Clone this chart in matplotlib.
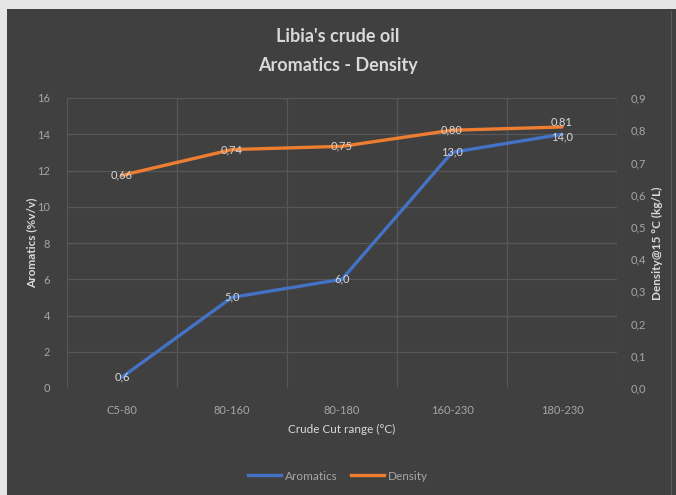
import numpy as np
import matplotlib.pyplot as plt
from matplotlib.patches import Rectangle
from matplotlib.lines import Line2D

# data
cuts = ['C5-80', '80-160', '80-180', '160-230', '180-230']
aromatics = [0.6, 5.0, 6.0, 13.0, 14.0]
density = [0.66, 0.74, 0.75, 0.80, 0.81]
left_ticks = [0, 2, 4, 6, 8, 10, 12, 14, 16]
right_ticks = [0.0, 0.1, 0.2, 0.3, 0.4, 0.5, 0.6, 0.7, 0.8, 0.9]

BG = '#404040'
TXT = '#d9d9d9'
TICK = '#a6a6a6'
GRID = '#575757'
BLUE = '#4472c4'
ORANGE = '#ed7d31'

plt.rcParams['font.family'] = ['Lato', 'DejaVu Sans']

W, H = 676, 495
fig = plt.figure(figsize=(W / 100, H / 100), dpi=100, facecolor='#e6e6e6')
fig.patches.append(Rectangle((7 / W, 0), 1 - 7 / W, 1 - 9 / H, transform=fig.transFigure,
                             facecolor=BG, edgecolor='none', zorder=-10))
# thin lighter edge on the right side of the chart frame
fig.patches.append(Rectangle((671 / W, 0), 1 / W, 1 - 11 / H, transform=fig.transFigure,
                             facecolor='#5a5a5a', edgecolor='none', zorder=-9))

# axes box in pixels: x 67..617, y 98..388
ax = fig.add_axes([67 / W, 1 - 388 / H, 550 / W, 290 / H])
ax.set_facecolor(BG)
ax2 = ax.twinx()

x = np.arange(len(cuts))
ax.set_xlim(-0.5, len(cuts) - 0.5)
ax.set_ylim(0, 16)
ax2.set_ylim(0, 0.9)

# grid: horizontal on left ticks, vertical at category boundaries
for t in left_ticks[1:]:
    ax.axhline(t, color=GRID, lw=0.9, zorder=0)
for b in np.arange(-0.5, len(cuts) + 0.5, 1.0):
    ax.axvline(b, color=GRID, lw=0.9, zorder=0)

ax.plot(x, aromatics, color=BLUE, lw=2.4, solid_capstyle='round', zorder=3)
ax2.plot(x, density, color=ORANGE, lw=2.4, solid_capstyle='round', zorder=3)

# last pair of labels sits on top of each other in the original, nudge apart a bit
for i, (xi, v) in enumerate(zip(x, aromatics)):
    dy = -2 if i == len(x) - 1 else 0
    ax.annotate(f'{v:.1f}'.replace('.', ','), (xi, v), xytext=(0, dy), textcoords='offset points',
                ha='center', va='center', color=TXT, fontsize=8, zorder=5)
for i, (xi, v) in enumerate(zip(x, density)):
    dy = 4 if i == len(x) - 1 else 0
    ax2.annotate(f'{v:.2f}'.replace('.', ','), (xi, v), xytext=(0, dy), textcoords='offset points',
                 ha='center', va='center', color=TXT, fontsize=8, zorder=5)

for a in (ax, ax2):
    for s in a.spines.values():
        s.set_visible(False)
    a.tick_params(length=0, colors=TICK, labelsize=8)

ax.set_xticks(x)
ax.set_xticklabels(cuts)
ax.tick_params(axis='x', pad=12)
ax.set_yticks(left_ticks)
ax.tick_params(axis='y', pad=12)
ax2.set_yticks(right_ticks)
ax2.set_yticklabels([f'{t:.1f}'.replace('.', ',') for t in right_ticks])
ax2.tick_params(axis='y', pad=10)

ax.set_xlabel('Crude Cut range (°C)', color=TXT, fontsize=8.5, labelpad=6)
ax.set_ylabel('Aromatics (%v/v)', color=TXT, fontsize=8.5, fontweight='bold', labelpad=0)
ax2.set_ylabel('Density@15 °C (kg/L)', color=TXT, fontsize=8.5, fontweight='bold',
               rotation=90, labelpad=4)

fig.text(0.5, 1 - 37 / H, "Libia's crude oil", ha='center', va='center',
         color=TXT, fontsize=13, fontweight='bold')
fig.text(0.5, 1 - 65 / H, 'Aromatics - Density', ha='center', va='center',
         color=TXT, fontsize=13, fontweight='bold')

handles = [Line2D([], [], color=BLUE, lw=2.4), Line2D([], [], color=ORANGE, lw=2.4)]
fig.legend(handles, ['Aromatics', 'Density'], loc='center', bbox_to_anchor=(0.5, 1 - 476 / H),
           ncol=2, frameon=False, fontsize=8.5, labelcolor=TICK, handlelength=2.8,
           handletextpad=0.3, columnspacing=1.2)

fig.savefig('out.png', dpi=100, facecolor=fig.get_facecolor())
